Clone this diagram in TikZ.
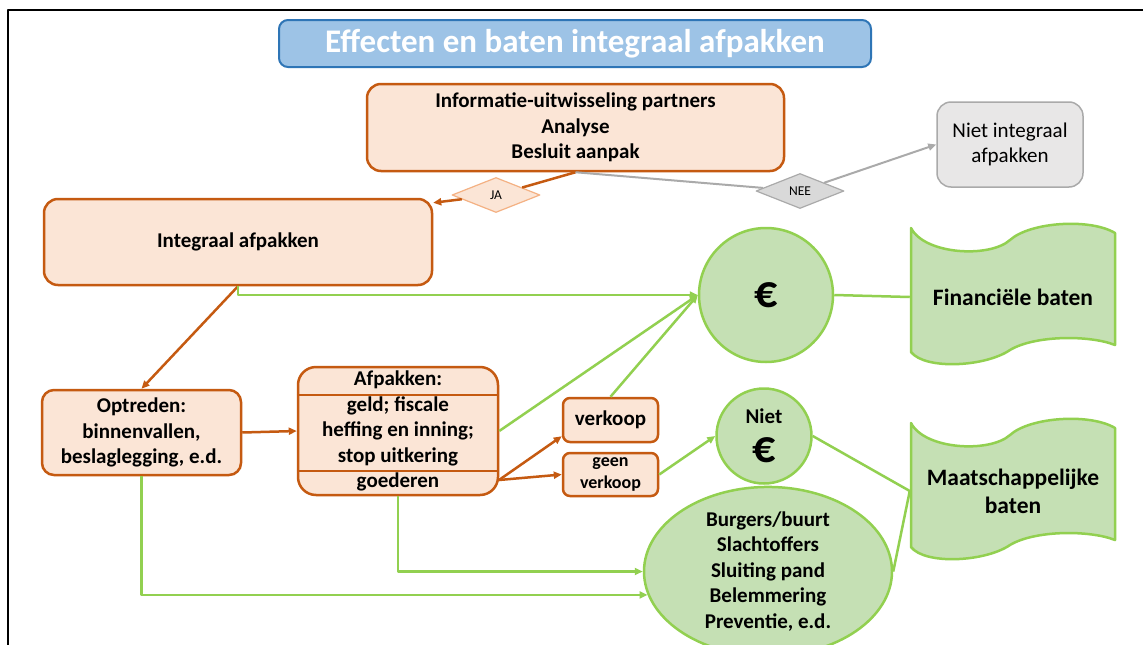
\documentclass[tikz,border=0pt]{standalone}
\usepackage{fontspec}
\setmainfont{Carlito}
\usetikzlibrary{arrows.meta,shapes.geometric}
\definecolor{oranjerand}{RGB}{197,90,17}
\definecolor{oranjevul}{RGB}{251,229,214}
\definecolor{oranjelicht}{RGB}{244,177,131}
\definecolor{grijsrand}{RGB}{170,170,170}
\definecolor{grijsvul}{RGB}{217,217,217}
\definecolor{grijslicht}{RGB}{232,231,231}
\definecolor{groenrand}{RGB}{146,208,80}
\definecolor{groenvul}{RGB}{197,224,180}
\definecolor{blauwrand}{RGB}{46,117,182}
\definecolor{blauwvul}{RGB}{157,195,230}
\newlength{\lw}
\setlength{\lw}{2.5pt}
\newcommand{\tekst}{\fontsize{21}{25.5}\selectfont\bfseries}
\newcommand{\groot}{\fontsize{23.5}{28}\selectfont\bfseries}
\newcommand{\munt}{\fontsize{46}{46}\selectfont €}
\tikzstyle{every picture}+=[x=1pt,y=-1pt]
\tikzstyle{every picture}+=[>={Triangle[length=8pt,width=7pt]}]
\tikzstyle{every picture}+=[line width=\lw]
\tikzstyle{every picture}+=[line join=round]
\tikzstyle{every picture}+=[line cap=butt]
\tikzstyle{stap}=[draw=oranjerand,fill=oranjevul,rounded corners=14pt,align=center,inner sep=0pt,font=\tekst]
\tikzstyle{keuze}=[diamond,aspect=2.5,inner sep=0pt,line width=1.2pt,minimum width=88pt,minimum height=35pt,font=\fontsize{13.5}{16}\selectfont]
\tikzstyle{baat}=[draw=groenrand,fill=groenvul,inner sep=0pt,align=center,font=\tekst]
\tikzstyle{golf}=[draw=groenrand,fill=groenvul]
\tikzstyle{bruin}=[draw=oranjerand,->]
\tikzstyle{groen}=[draw=groenrand]
\tikzstyle{grijs}=[draw=grijsrand,line width=2pt]

\begin{document}
\begin{tikzpicture}
\useasboundingbox (0,0) rectangle (1143,645);
\fill[white] (0,0) rectangle (1143,645);
\draw[line width=1.5pt] (8,645) -- (8,10) -- (1143,10);

% titel
\node[draw=blauwrand,fill=blauwvul,rounded corners=9pt,line width=2pt,minimum width=592pt,minimum height=47pt,text=white,font=\fontsize{33}{38}\selectfont\bfseries] (titel) at (575,43.5) {Effecten en baten integraal afpakken};

% besluit
\node[stap,minimum width=417pt,minimum height=87pt] (info) at (575.5,127.5) {Informatie-uitwisseling partners\\Analyse\\Besluit aanpak};
\node[keuze,draw=oranjelicht,fill=oranjevul] (ja) at (496,195) {JA};
\node[keuze,draw=grijsrand,fill=grijsvul] (nee) at (800,191) {NEE};
\node[draw=grijsrand,fill=grijslicht,line width=1.5pt,rounded corners=14pt,align=center,inner sep=0pt,minimum width=146pt,minimum height=85pt,font=\fontsize{21}{25.5}\selectfont] (niet) at (1010,144.5) {Niet integraal\\afpakken};
\node[stap,minimum width=388pt,minimum height=86pt] (integ) at (238,242) {Integraal afpakken};

% optreden en afpakken
\node[stap,rounded corners=12pt,minimum width=199pt,minimum height=85pt] (optr) at (141.5,432.5) {Optreden:\\binnenvallen,\\beslaglegging, e.d.};
\node[stap,rounded corners=18pt,minimum width=200pt,minimum height=128pt] (afp) at (398,431) {Afpakken:\\geld; fiscale\\heffing en inning;\\stop uitkering\\goederen};
\draw[oranjerand,line width=1.5pt] (afp.west |- 0,395) -- (afp.east |- 0,395);
\draw[oranjerand,line width=1.5pt] (afp.west |- 0,471) -- (afp.east |- 0,471);
\node[stap,rounded corners=7pt,minimum width=95pt,minimum height=44pt] (verk) at (610.5,420) {verkoop};
\node[stap,rounded corners=7pt,minimum width=95pt,minimum height=43pt,font=\fontsize{18}{22}\selectfont\bfseries] (geen) at (610.5,474.5) {geen\\verkoop};
\coordinate (afpuit) at (499,480);

% baten
\node[baat,circle,minimum size=134pt] (euro) at (766,295) {\munt};
\node[baat,circle,minimum size=95pt] (nieteuro) at (764,436) {Niet\\[14pt]\munt};
\node[baat,ellipse,minimum width=248pt,minimum height=143pt] (burg) at (768,571.5) {Burgers/buurt\\Slachtoffers\\Sluiting pand\\Belemmering\\Preventie, e.d.};

\draw[golf] (911,228) .. controls (925,255) and (990,258) .. (1010,240) .. controls (1030,222) and (1090,218) .. (1115,233) -- (1115,345) .. controls (1090,335) and (1035,335) .. (1010,350) .. controls (985,367) and (925,370) .. (911,352) -- cycle;
\begin{scope}[shift={(0,195)}]
\draw[golf] (911,228) .. controls (925,255) and (990,258) .. (1010,240) .. controls (1030,222) and (1090,218) .. (1115,233) -- (1115,345) .. controls (1090,335) and (1035,335) .. (1010,350) .. controls (985,367) and (925,370) .. (911,352) -- cycle;
\end{scope}
\node[minimum width=204pt,minimum height=120pt,inner sep=0pt,font=\groot] (fin) at (1013,297) {Financiële baten};
\node[minimum width=204pt,minimum height=120pt,inner sep=0pt,align=center,font=\groot] (maat) at (1013,491) {Maatschappelijke\\baten};

% pijlen
\draw[oranjerand] (info.south) -- (ja);
\draw[bruin] (ja) -- ([yshift=-5pt]integ.north east);
\draw[grijs] (info.south) -- (nee);
\draw[grijs,->] (nee) -- (niet.west);
\draw[bruin] (integ.south) -- (optr.north);
\draw[bruin] (optr.east) -- (afp.west);
\draw[bruin] (afpuit) -- ([yshift=7pt]verk.south west);
\draw[bruin] (afpuit) -- (geen.west);
\draw[groen,->] (integ.south) |- (euro.west);
\draw[groen,->] (afp.east) -- (euro.west);
\draw[groen,->] (verk.north) -- (euro.west);
\draw[groen] (euro.east) -- (fin.west);
\draw[groen,->] (geen.east) -- (nieteuro.west);
\draw[groen] (nieteuro.east) -- (maat.west);
\draw[groen] (burg.east) -- (maat.west);
\draw[groen,->] (afp.south) |- (burg.west);
\draw[groen,->] (optr.south) |- (burg.191);
\end{tikzpicture}
\end{document}
